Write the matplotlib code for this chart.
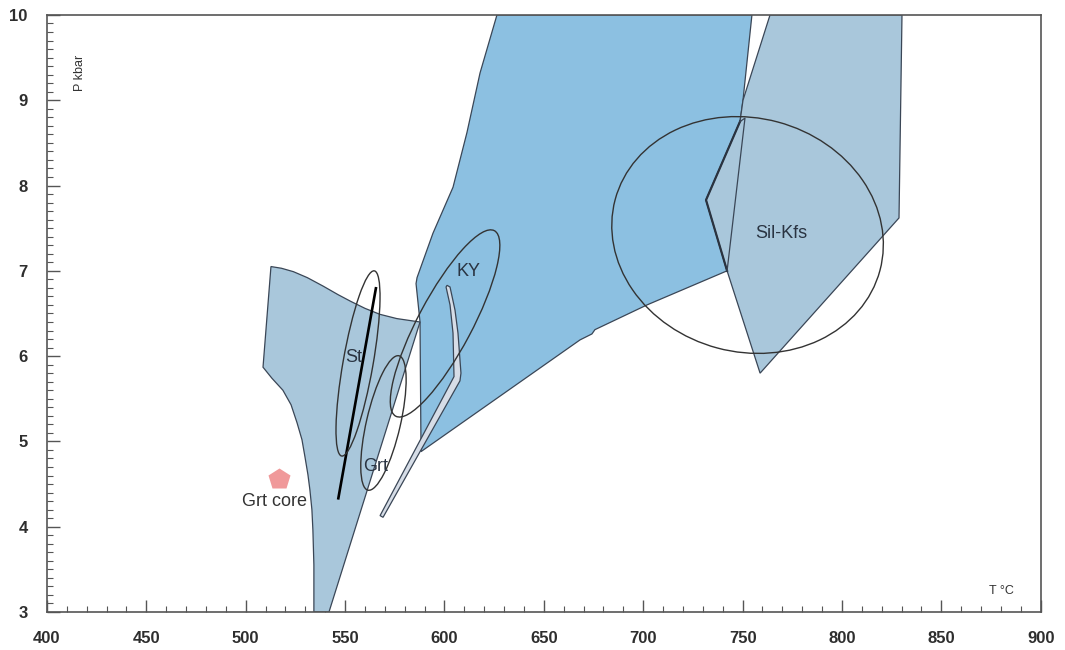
import numpy as np
import matplotlib.pyplot as plt
from matplotlib.patches import Polygon, Ellipse
from matplotlib.ticker import MultipleLocator
from matplotlib.transforms import Affine2D

plt.rcParams['font.family'] = ['Liberation Sans', 'DejaVu Sans']

# P-T fields, temperature in degC and pressure in kbar
low_T = [512.7, 518.0, 524.0, 531.0, 539.0, 546.5, 553.0, 560.0, 567.5, 576.0, 587.7,
         541.9, 534.3, 534.3, 533.8, 533.3, 532.3, 531.3, 529.8, 528.3, 525.8,
         522.8, 518.7, 513.2, 508.7]
low_P = [7.05, 7.03, 6.99, 6.92, 6.82, 6.72, 6.64, 6.56, 6.49, 6.44, 6.40,
         3.00, 3.00, 3.55, 3.96, 4.20, 4.43, 4.61, 4.82, 5.02, 5.22,
         5.43, 5.60, 5.74, 5.87]

ky_T = [626.4, 754.7, 750.2, 748.7, 731.6, 742.2, 701.9, 675.7, 674.2, 668.2,
        588.2, 587.7, 585.7, 586.2, 594.2, 604.3, 611.3, 617.9]
ky_P = [10.0, 10.0, 9.00, 8.75, 7.83, 7.00, 6.60, 6.31, 6.26, 6.19,
        4.88, 6.40, 6.85, 6.92, 7.44, 7.98, 8.62, 9.32]

sil_T = [763.8, 830.2, 828.7, 758.8, 742.2, 731.6, 748.7, 750.2]
sil_P = [10.0, 10.0, 7.62, 5.80, 7.00, 7.83, 8.75, 9.00]

lens_T = [601.3, 602.8, 605.3, 606.8, 608.3, 607.8, 569.1, 567.6,
          604.8, 604.3, 602.8, 600.8]
lens_P = [6.83, 6.81, 6.54, 6.27, 5.80, 5.71, 4.11, 4.13,
          5.76, 6.27, 6.60, 6.81]

# kinked reaction line and the straight one beside it
kink_T = [748.7, 731.6, 742.2]
kink_P = [8.75, 7.83, 7.00]
sil_line_T = [748.7, 751.2, 742.2]
sil_line_P = [8.75, 8.79, 7.00]

# zoning path
path_T = [565.5, 546.6]
path_P = [6.795, 4.333]

# estimate ellipses: centre T, centre P, width, height (degC equivalent), tilt
ell_names = ['KY', 'St', 'Grt', 'Sil-Kfs']
ell_T = [600.3, 556.5, 569.3, 752.5]
ell_P = [6.383, 5.914, 5.216, 7.42]
ell_w = [105.7, 94.6, 69.4, 137.9]
ell_h = [27.2, 15.1, 17.1, 117.7]
ell_ang = [62, 80, 77, -15]

labels = ['St', 'Grt', 'KY', 'Sil-Kfs']
label_T = [554.2, 565.5, 612.3, 769.3]
label_P = [5.978, 4.70, 6.993, 7.432]

core_T, core_P = 516.7, 4.56

fig = plt.figure(figsize=(10.65, 6.5), dpi=100)
ax = fig.add_axes([0.0441, 0.0585, 0.9331, 0.9185])
ax.set_xlim(400, 900)
ax.set_ylim(3, 10)

edge = '#3a4656'
ax.add_patch(Polygon(np.column_stack([ky_T, ky_P]), closed=True,
                     facecolor='#8cc0e1', edgecolor=edge, lw=0.9, zorder=1))
ax.add_patch(Polygon(np.column_stack([low_T, low_P]), closed=True,
                     facecolor='#a9c7db', edgecolor=edge, lw=0.9, zorder=2))
ax.add_patch(Polygon(np.column_stack([sil_T, sil_P]), closed=True,
                     facecolor='#a9c7db', edgecolor=edge, lw=0.9, zorder=2))
ax.add_patch(Polygon(np.column_stack([lens_T, lens_P]), closed=True,
                     facecolor='#d6dde7', edgecolor=edge, lw=0.9, zorder=3))

ax.plot(kink_T, kink_P, color='#2a3340', lw=1.6, zorder=4)
ax.plot(sil_line_T, sil_line_P, color=edge, lw=0.9, zorder=4)
ax.plot(path_T, path_P, color='black', lw=1.9, zorder=5)

# ellipses drawn in a space where 1 kbar is scaled to the same screen length as k degC
bb = ax.get_position()
k = (bb.height * 650 / 7.0) / (bb.width * 1065 / 500.0)
ell_trans = Affine2D().scale(1, 1 / k) + ax.transData
for t, p, w, h, a in zip(ell_T, ell_P, ell_w, ell_h, ell_ang):
    ax.add_patch(Ellipse((t, p * k), w, h, angle=a, transform=ell_trans,
                         fill=False, edgecolor='#333333', lw=1.0, zorder=6))

for s, t, p in zip(labels, label_T, label_P):
    ax.text(t, p, s, fontsize=13, color='#2a3442', ha='center', va='center', zorder=7)

ax.plot(core_T, core_P, marker='p', markersize=16.5, color='#f0999a', mec='none', zorder=7)
ax.text(514.5, 4.29, 'Grt core', fontsize=13, color='#333333', ha='center', va='center', zorder=7)

ax.text(0.033, 0.903, 'P kbar', transform=ax.transAxes, rotation=90, fontsize=9,
        color='#333333', ha='center', va='center')
ax.text(0.96, 0.035, 'T \u00b0C', transform=ax.transAxes, fontsize=9,
        color='#333333', ha='center', va='center')

ax.xaxis.set_major_locator(MultipleLocator(50))
ax.xaxis.set_minor_locator(MultipleLocator(10))
ax.yaxis.set_major_locator(MultipleLocator(1))
ax.yaxis.set_minor_locator(MultipleLocator(0.1))
ax.tick_params(which='both', direction='in', colors='#555555', labelcolor='#2e2e2e',
               top=False, right=False)
ax.tick_params(which='major', length=9, width=1.0, labelsize=12, pad=14)
ax.tick_params(which='minor', length=4, width=0.8)
for lab in ax.get_xticklabels() + ax.get_yticklabels():
    lab.set_fontweight('bold')
for sp in ax.spines.values():
    sp.set_color('#555555')
    sp.set_linewidth(1.2)

fig.savefig('out.png', dpi=100)
